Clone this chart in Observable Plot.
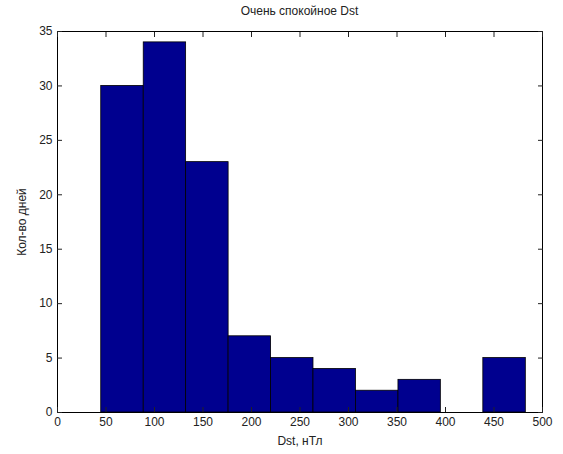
<!DOCTYPE html>
<html><head><meta charset="utf-8">
<script src="https://cdn.jsdelivr.net/npm/d3@7"></script>
<script src="https://cdn.jsdelivr.net/npm/@observablehq/plot@0.6"></script>
<style>
body{margin:0;background:#fff;}
#chart{position:relative;width:563px;height:454px;}
.title{position:absolute;top:4px;left:57px;width:485px;text-align:center;font:12px 'Liberation Sans',Arial,sans-serif;color:#222;}
</style>
</head><body><div id="chart"><div class="title" id="title"></div></div>
<script>
const title = "Очень спокойное Dst";
const xLabel = "Dst, нТл";
const yLabel = "Кол-во дней";
const binEdges = [45.1, 88.9, 132.6, 176.4, 220.2, 263.9, 307.7, 351.5, 395.2, 439.0, 482.8];
const counts = [30, 34, 23, 7, 5, 4, 2, 3, 0, 5];
const xTicks = [0, 50, 100, 150, 200, 250, 300, 350, 400, 450, 500];
const yTicks = [0, 5, 10, 15, 20, 25, 30, 35];

const bins = counts.map((c, i) => ({x1: binEdges[i], x2: binEdges[i + 1], y: c}));

document.getElementById("title").textContent = title;

const noText = () => "";
const plot = Plot.plot({
  width: 563, height: 454,
  marginLeft: 57, marginRight: 21, marginTop: 31, marginBottom: 42,
  style: {fontFamily: "'Liberation Sans', Arial, sans-serif", fontSize: "12px", color: "#222", background: "transparent"},
  x: {domain: [0, 500]},
  y: {domain: [0, 35]},
  marks: [
    Plot.rectY(bins, {x1: "x1", x2: "x2", y: "y", fill: "#00008f", stroke: "#000", strokeWidth: 0.8}),
    Plot.frame({stroke: "#000", strokeWidth: 1}),
    Plot.axisX({anchor: "bottom", ticks: xTicks, tickSize: 0, tickPadding: 5, tickFormat: d => d, label: xLabel, labelAnchor: "center", labelArrow: "none", labelOffset: 32}),
    Plot.axisX({anchor: "bottom", ticks: xTicks, tickSize: -5, tickFormat: noText, label: null}),
    Plot.axisX({anchor: "top", ticks: xTicks, tickSize: -5, tickFormat: noText, label: null}),
    Plot.axisY({anchor: "left", ticks: yTicks, tickSize: 0, tickPadding: 5, tickFormat: d => d, label: yLabel, labelAnchor: "center", labelArrow: "none", labelOffset: 40}),
    Plot.axisY({anchor: "left", ticks: yTicks, tickSize: -5, tickFormat: noText, label: null}),
    Plot.axisY({anchor: "right", ticks: yTicks, tickSize: -5, tickFormat: noText, label: null})
  ]
});
document.getElementById("chart").appendChild(plot);
</script>
</body></html>
